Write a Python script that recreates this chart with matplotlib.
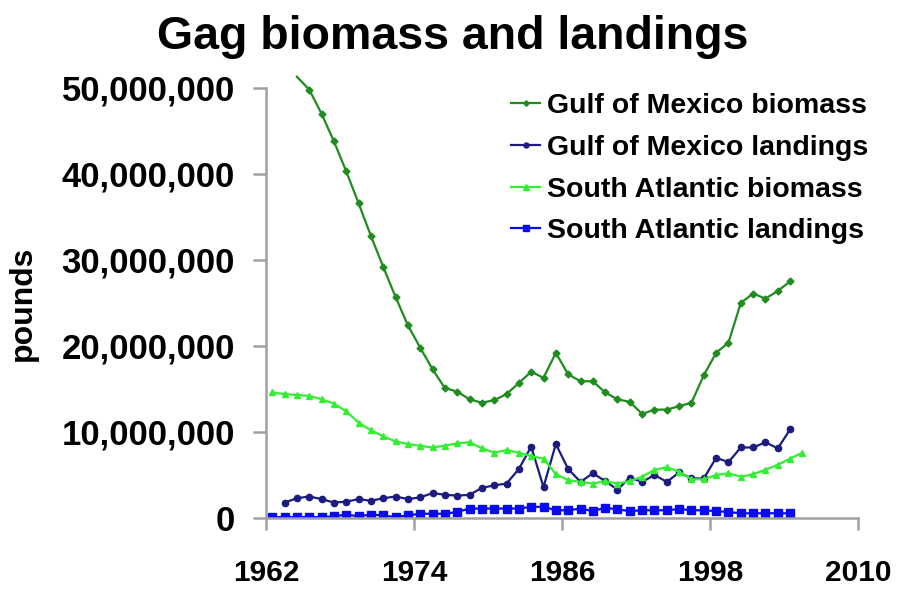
import numpy as np
import matplotlib
matplotlib.use("Agg")
import matplotlib.pyplot as plt
from matplotlib.ticker import FuncFormatter

plt.rcParams["font.family"] = ["Liberation Sans", "DejaVu Sans"]
plt.rcParams["font.weight"] = "bold"

# ---------------------------
# Data (pounds)
# ---------------------------
gom_bio_years = np.arange(1964, 2005)
gom_biomass = [51.3, 49.8, 47.0, 43.8, 40.3, 36.6, 32.8, 29.2, 25.7, 22.4,
               19.8, 17.3, 15.1, 14.7, 13.8, 13.4, 13.7, 14.4, 15.7, 17.0,
               16.3, 19.2, 16.7, 15.9, 15.9, 14.6, 13.8, 13.5, 12.1, 12.6,
               12.6, 13.0, 13.4, 16.6, 19.2, 20.4, 25.0, 26.1, 25.5, 26.4,
               27.5]

gom_land_years = np.arange(1963, 2005)
gom_landings = [1.8, 2.3, 2.5, 2.2, 1.8, 1.9, 2.2, 2.0, 2.3, 2.5,
                2.2, 2.4, 2.9, 2.7, 2.6, 2.7, 3.5, 3.8, 4.0, 5.7,
                8.3, 3.6, 8.6, 5.7, 4.2, 5.2, 4.3, 3.3, 4.7, 4.2,
                5.0, 4.2, 5.3, 4.6, 4.6, 7.0, 6.5, 8.2, 8.2, 8.8,
                8.1, 10.3]

sa_bio_years = np.arange(1962, 2006)
sa_biomass = [14.6, 14.4, 14.3, 14.2, 13.8, 13.3, 12.4, 11.1, 10.2, 9.5,
              8.9, 8.6, 8.4, 8.2, 8.4, 8.7, 8.8, 8.1, 7.6, 7.9,
              7.6, 7.2, 6.9, 5.1, 4.4, 4.2, 4.0, 4.3, 4.0, 4.3,
              4.8, 5.6, 5.9, 5.4, 4.5, 4.5, 5.0, 5.2, 4.8, 5.1,
              5.6, 6.2, 6.9, 7.6]

sa_land_years = np.arange(1962, 2005)
sa_landings = [0.1, 0.1, 0.1, 0.1, 0.1, 0.2, 0.4, 0.2, 0.4, 0.3,
               0.1, 0.3, 0.5, 0.5, 0.5, 0.7, 1.1, 1.1, 1.1, 1.1,
               1.1, 1.3, 1.3, 0.9, 0.9, 1.1, 0.8, 1.2, 1.0, 0.8,
               0.9, 0.9, 0.9, 1.05, 0.9, 0.9, 0.8, 0.7, 0.55, 0.55,
               0.55, 0.55, 0.55]

year_ticks = [1962, 1974, 1986, 1998, 2010]
y_ticks = [0, 10e6, 20e6, 30e6, 40e6, 50e6]

# ---------------------------
# Plot
# ---------------------------
fig = plt.figure(figsize=(9.05, 5.9), dpi=100)
ax = fig.add_axes([0.294, 0.122, 0.654, 0.729])

# points sit in the middle of each year slot
ax.plot(gom_bio_years + 0.5, np.array(gom_biomass) * 1e6, color="#1e8c1e",
        lw=1.6, marker="D", ms=3.5, markevery=range(1, len(gom_biomass)),
        clip_on=False, label="Gulf of Mexico biomass")
ax.plot(gom_land_years + 0.5, np.array(gom_landings) * 1e6, color="#1c1c80",
        lw=1.6, marker="o", ms=4.5, label="Gulf of Mexico landings")
ax.plot(sa_bio_years + 0.5, np.array(sa_biomass) * 1e6, color="#33ee33",
        lw=1.6, marker="^", ms=5, label="South Atlantic biomass")
ax.plot(sa_land_years + 0.5, np.array(sa_landings) * 1e6, color="#0a0af0",
        lw=1.6, marker="s", ms=6, label="South Atlantic landings")

ax.set_xlim(1962, 2010)
ax.set_ylim(0, 50e6)
ax.set_xticks(year_ticks)
ax.set_yticks(y_ticks)
ax.yaxis.set_major_formatter(FuncFormatter(lambda v, p: f"{int(v):,}"))

for side in ["top", "right"]:
    ax.spines[side].set_visible(False)
for side in ["left", "bottom"]:
    ax.spines[side].set_color("#a0a0a0")
    ax.spines[side].set_linewidth(1.8)

ax.tick_params(axis="x", length=8.6, width=1.8, color="#a0a0a0",
               labelsize=21.5, pad=21)
ax.tick_params(axis="y", length=9.4, width=1.8, color="#a0a0a0",
               labelsize=25, pad=13)
for lbl in ax.get_xticklabels() + ax.get_yticklabels():
    lbl.set_fontweight("bold")

ax.set_ylabel("pounds", fontsize=23, fontweight="bold")
ax.yaxis.set_label_coords(-0.385, 0.5)

fig.text(0.5, 0.938, "Gag biomass and landings", ha="center", va="center",
         fontsize=33.5, fontweight="bold")

ax.legend(loc="upper left", bbox_to_anchor=(0.565, 0.843),
          bbox_transform=fig.transFigure, frameon=False, fontsize=20.5,
          handlelength=1.0, handletextpad=0.25, labelspacing=0.56,
          borderpad=0, borderaxespad=0, markerscale=0.8)

fig.savefig("out.png", dpi=100)
